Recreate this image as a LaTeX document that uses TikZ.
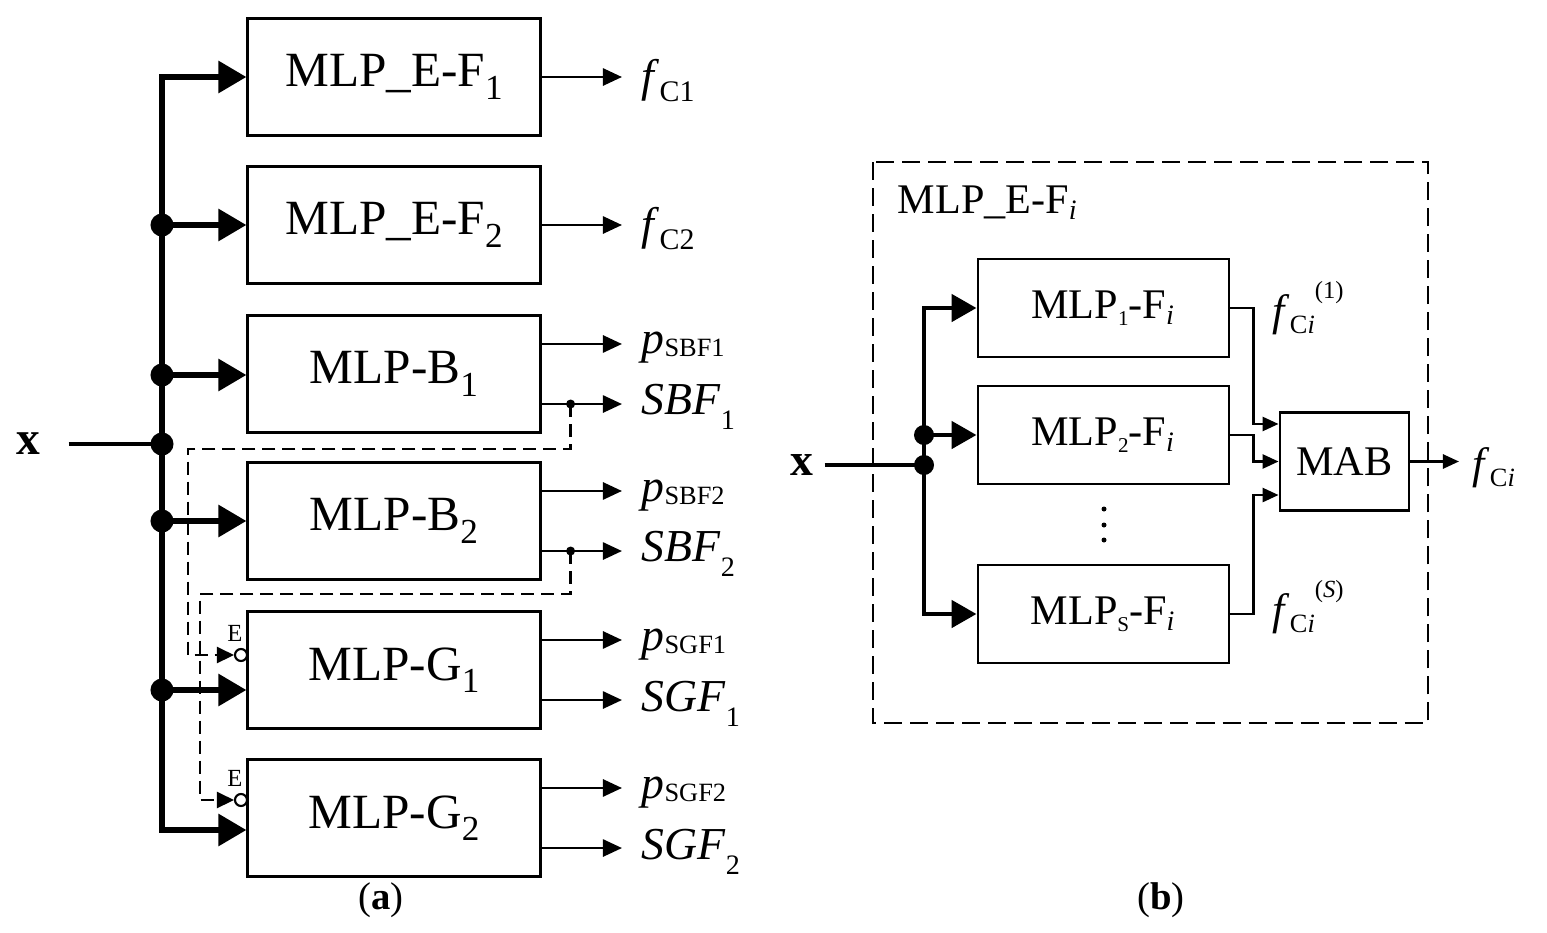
\documentclass[tikz,border=0pt]{standalone}
\usepackage{fontspec}
\setmainfont{Liberation Serif}
\usetikzlibrary{arrows.meta}

\newcommand{\bsub}[1]{\raisebox{-3.5pt}{\fontsize{10}{11}\selectfont #1}}
\newcommand{\fsub}[1]{\raisebox{-3pt}{\fontsize{8.5}{9}\selectfont #1}}
\newcommand{\nsub}[1]{\raisebox{-4.5pt}{\fontsize{8}{9}\selectfont #1}}
\newcommand{\psub}[1]{\raisebox{-1pt}{\fontsize{7.5}{8}\selectfont #1}}
\newcommand{\msub}[1]{\raisebox{-2pt}{\fontsize{6}{7}\selectfont #1}}
\newcommand{\csub}[1]{\raisebox{-2.5pt}{\fontsize{7.5}{8}\selectfont #1}}
\newcommand{\csup}[1]{\raisebox{7.5pt}{\fontsize{7}{8}\selectfont #1}}

\tikzset{
  boxa/.style={draw, line width=0.85pt, minimum width=2.92cm, minimum height=1.16cm, font=\fontsize{14}{16}\selectfont},
  boxb/.style={draw, line width=0.8pt, minimum width=2.51cm, minimum height=0.98cm, font=\fontsize{12}{14}\selectfont},
  busarrow/.style={line width=1.7pt, {Triangle[length=0.28cm,width=0.31cm]}-{Triangle[length=0.28cm,width=0.31cm]}},
  busline/.style={line width=1.7pt, -{Triangle[length=0.28cm,width=0.31cm]}},
  busarrowb/.style={line width=1.4pt, {Triangle[length=0.25cm,width=0.27cm]}-{Triangle[length=0.25cm,width=0.27cm]}},
  buslineb/.style={line width=1.4pt, -{Triangle[length=0.25cm,width=0.27cm]}},
  inline/.style={line width=1.3pt},
  outarrow/.style={line width=0.75pt, -{Triangle[length=0.19cm,width=0.17cm]}},
  outarrowb/.style={line width=0.75pt, -{Triangle[length=0.16cm,width=0.14cm]}},
  dasharrow/.style={line width=0.75pt, dash pattern=on 0.13cm off 0.07cm, -{Triangle[length=0.17cm,width=0.16cm]}},
  dashframe/.style={line width=0.8pt, dash pattern=on 0.18cm off 0.08cm},
  bigdot/.style={circle, fill, inner sep=0pt, minimum size=0.23cm},
  bigdotb/.style={circle, fill, inner sep=0pt, minimum size=0.2cm},
  smalldot/.style={circle, fill, inner sep=0pt, minimum size=0.09cm},
  ecircle/.style={circle, draw, fill=white, line width=0.6pt, inner sep=0pt, minimum size=0.12cm},
  elabel/.style={inner sep=0pt, font=\fontsize{7}{8}\selectfont},
  lbl/.style={anchor=base west, inner xsep=0.19cm, inner ysep=0pt, font=\fontsize{13}{15}\selectfont},
  lblb/.style={anchor=base west, inner xsep=0.13cm, inner ysep=0pt, font=\fontsize{12.5}{14}\selectfont},
  caption/.style={font=\fontsize{11}{13}\selectfont},
}

\begin{document}
\begin{tikzpicture}[x=0.01cm, y=-0.01cm]
  \useasboundingbox (0,0) rectangle (1547,933);

  % (a)
  \node[boxa] (ef1) at (394,77) {MLP\_E-F\bsub{1}};
  \node[boxa] (ef2) at (394,225) {MLP\_E-F\bsub{2}};
  \node[boxa] (b1) at (394,374) {MLP-B\bsub{1}};
  \node[boxa] (b2) at (394,521) {MLP-B\bsub{2}};
  \node[boxa] (g1) at (394,670) {MLP-G\bsub{1}};
  \node[boxa] (g2) at (394,818) {MLP-G\bsub{2}};

  \node[bigdot] (j2) at (162,225) {};
  \node[bigdot] (j3) at (162,375) {};
  \node[bigdot] (jx) at (162,444) {};
  \node[bigdot] (j4) at (162,521) {};
  \node[bigdot] (j5) at (162,690) {};
  \coordinate (cbot) at (162,830);

  \node[font=\fontsize{13.5}{15}\selectfont\bfseries, inner xsep=8pt] (xa) at (28,444) {x};
  \draw[inline] (xa.east) -- (jx.center);
  \draw[busarrow] (ef1.west) -- (ef1.west -| j2) -- (cbot) -- (cbot -| g2.west);
  \draw[busline] (j2.center) -- (ef2.west);
  \draw[busline] (j3.center) -- (j3 -| b1.west);
  \draw[busline] (j4.center) -- (b2.west);
  \draw[busline] (j5.center) -- (j5 -| g1.west);

  \node[lbl] (fc1) at (622,91) {\textit{f}\fsub{C1}};
  \node[lbl] (fc2) at (622,239) {\textit{f}\fsub{C2}};
  \node[lbl] (psb1) at (622,353) {\textit{p}\psub{SBF1}};
  \node[lbl] (sbf1) at (622,414) {\textit{SBF}\nsub{1}};
  \node[lbl] (psb2) at (622,501) {\textit{p}\psub{SBF2}};
  \node[lbl] (sbf2) at (622,561) {\textit{SBF}\nsub{2}};
  \node[lbl] (psg1) at (622,650) {\textit{p}\psub{SGF1}};
  \node[lbl] (sgf1) at (622,711) {\textit{SGF}\nsub{1}};
  \node[lbl] (psg2) at (622,798) {\textit{p}\psub{SGF2}};
  \node[lbl] (sgf2) at (622,859) {\textit{SGF}\nsub{2}};

  \draw[outarrow] (ef1.east) -- (ef1.east -| fc1.west);
  \draw[outarrow] (ef2.east) -- (ef2.east -| fc2.west);
  \draw[outarrow] ([yshift=0.3cm]b1.east) -- ([yshift=0.3cm]b1.east -| psb1.west);
  \draw[outarrow] ([yshift=-0.3cm]b1.east) -- ([yshift=-0.3cm]b1.east -| sbf1.west);
  \draw[outarrow] ([yshift=0.3cm]b2.east) -- ([yshift=0.3cm]b2.east -| psb2.west);
  \draw[outarrow] ([yshift=-0.3cm]b2.east) -- ([yshift=-0.3cm]b2.east -| sbf2.west);
  \draw[outarrow] ([yshift=0.3cm]g1.east) -- ([yshift=0.3cm]g1.east -| psg1.west);
  \draw[outarrow] ([yshift=-0.3cm]g1.east) -- ([yshift=-0.3cm]g1.east -| sgf1.west);
  \draw[outarrow] ([yshift=0.3cm]g2.east) -- ([yshift=0.3cm]g2.east -| psg2.west);
  \draw[outarrow] ([yshift=-0.3cm]g2.east) -- ([yshift=-0.3cm]g2.east -| sgf2.west);

  \node[smalldot] (sd1) at ([xshift=0.29cm, yshift=-0.3cm]b1.east) {};
  \node[smalldot] (sd2) at ([xshift=0.29cm, yshift=-0.3cm]b2.east) {};
  \node[ecircle] (e1) at (241,655) {};
  \node[ecircle] (e2) at (241,800) {};
  \node[elabel] (le1) at (235,633) {E};
  \node[elabel] (le2) at (235,778) {E};
  \draw[dasharrow] (sd1.center) -- ++(0,45) -| ([xshift=-0.46cm]e1.west) -- (e1.west);
  \draw[dasharrow] (sd2.center) -- ++(0,43) -| ([xshift=-0.34cm]e2.west) -- (e2.west);

  \node[caption] (capa) at (381,900) {(\textbf{a})};

  % (b)
  \draw[dashframe] (873,162) rectangle (1428,723);
  \node[anchor=base west, inner sep=0pt, font=\fontsize{12}{14}\selectfont] (title) at (897,213) {MLP\_E-F\textsubscript{\textit{i}}};

  \node[boxb] (m1) at (1103.5,308) {MLP\msub{1}-F\textsubscript{\textit{i}}};
  \node[boxb] (m2) at (1103.5,435) {MLP\msub{2}-F\textsubscript{\textit{i}}};
  \node[boxb] (ms) at (1103.5,614) {MLP\msub{S}-F\textsubscript{\textit{i}}};
  \foreach \y in {509,525,540}
    \fill (1104,\y) circle (0.025cm);
  \node[boxb, minimum width=1.29cm] (mab) at (1344.5,461.5) {MAB};

  \node[bigdotb] (jb1) at (924,435) {};
  \node[bigdotb] (jb2) at (924,465) {};
  \node[font=\fontsize{13}{15}\selectfont\bfseries, inner xsep=3pt] (xb) at (802,465) {x};
  \draw[inline] (xb.east) -- (jb2.center);
  \draw[busarrowb] (m1.west) -- (m1.west -| jb1) -- (ms.west -| jb1) -- (ms.west);
  \draw[buslineb] (jb1.center) -- (m2.west);

  \draw[outarrowb] (m1.east) -- ++(23,0) |- ([yshift=0.375cm]mab.west);
  \draw[outarrowb] (m2.east) -- ++(23,0) |- (mab.west);
  \draw[outarrowb] (ms.east) -- ++(23,0) |- ([yshift=-0.335cm]mab.west);

  \node[lblb] (fcio) at (1459,478) {\textit{f}\csub{C\textit{i}}};
  \draw[outarrowb] (mab.east) -- (mab.east -| fcio.west);
  \node[lblb, inner xsep=0pt] (fci1) at (1272,325) {\textit{f}\csub{C\textit{i}}\csup{(1)}};
  \node[lblb, inner xsep=0pt] (fcis) at (1272,624) {\textit{f}\csub{C\textit{i}}\csup{(\textit{S})}};

  \node[caption] (capb) at (1161,900) {(\textbf{b})};
\end{tikzpicture}
\end{document}
